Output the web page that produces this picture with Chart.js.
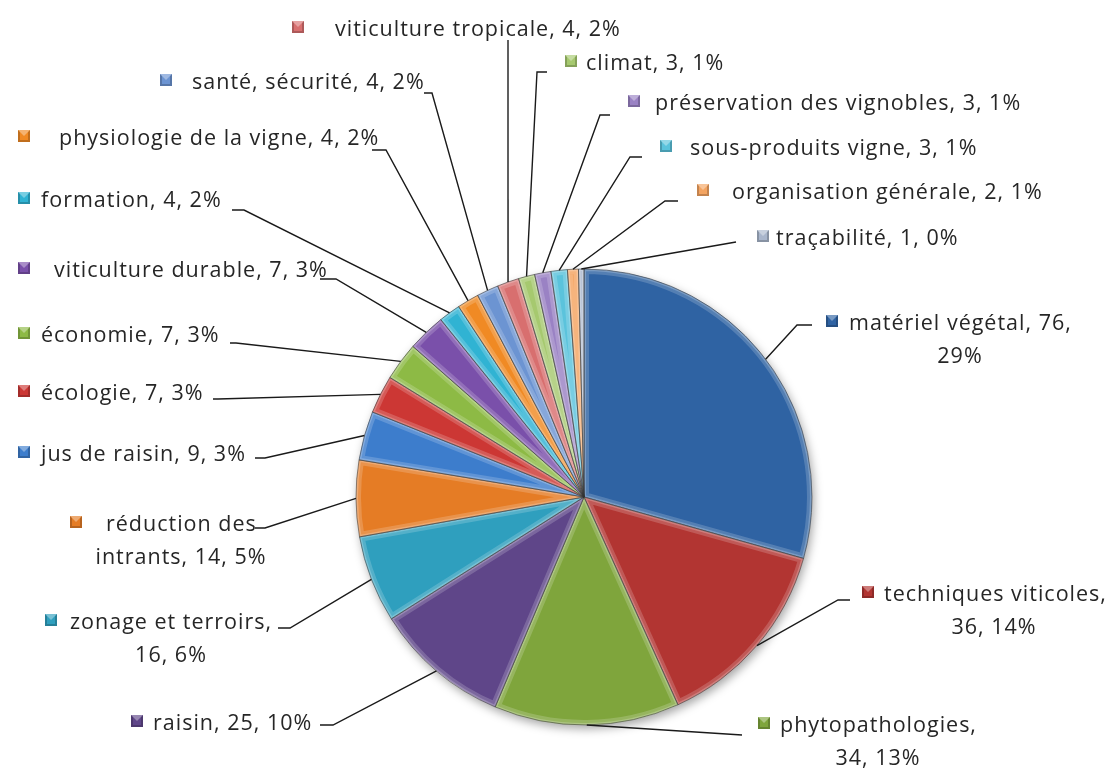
<!DOCTYPE html>
<html>
<head>
<meta charset="utf-8">
<script src="https://cdn.jsdelivr.net/npm/chart.js@4.4.0/dist/chart.umd.min.js"></script>
<style>
  html, body { margin: 0; padding: 0; background: #fff; }
  canvas { display: block; }
</style>
</head>
<body>
<canvas id="pie" width="1111" height="769"></canvas>
<script>
const categories = [
    'matériel végétal', 'techniques viticoles', 'phytopathologies', 'raisin',
    'zonage et terroirs', 'réduction des intrants', 'jus de raisin', 'écologie',
    'économie', 'viticulture durable', 'formation', 'physiologie de la vigne',
    'santé, sécurité', 'viticulture tropicale', 'climat', 'préservation des vignobles',
    'sous-produits vigne', 'organisation générale', 'traçabilité'
];
const counts = [76, 36, 34, 25, 16, 14, 9, 7, 7, 7, 4, 4, 4, 4, 3, 3, 3, 2, 1];
const percents = ['29%', '14%', '13%', '10%', '6%', '5%', '3%', '3%', '3%', '3%',
    '2%', '2%', '2%', '2%', '1%', '1%', '1%', '1%', '0%'];

const colors = [
    '#2f63a3', '#b23532', '#7fa53c', '#5f4689', '#2f9fbe', '#e57c25',
    '#3d7dcc', '#cc3734', '#8dba45', '#7a50aa', '#30b3d3', '#f08a24',
    '#6c94d2', '#d86f6f', '#a6c96f', '#9a82c4', '#5bc3dc', '#f4a461', '#a9b6cc'
];

// label text lines, built from the data
const labelLines = categories.map((c, i) => {
    const full = c + ', ' + counts[i] + ', ' + percents[i];
    if (i === 0) return [c + ', ' + counts[i] + ',', percents[i]];
    if (i === 1 || i === 2 || i === 4) return [c + ',', counts[i] + ', ' + percents[i]];
    if (i === 5) return ['réduction des', 'intrants, ' + counts[i] + ', ' + percents[i]];
    return [full];
});

// label placement: key box, text start, first line middle, second line centre, leader elbow and end
const labelLayout = [
    {bx: 826, tx: 849, ty: 320, l2: 960, ex: 797, ey: 325, hx: 812},
    {bx: 862, tx: 884, ty: 591, l2: 994, ex: 838, ey: 600, hx: 850},
    {bx: 758, tx: 780, ty: 722, l2: 878, ex: 742, ey: 735, hx: 742},
    {bx: 131, tx: 153, ty: 720, ex: 333, ey: 725, hx: 320},
    {bx: 45, tx: 70, ty: 619, l2: 171, ex: 290, ey: 628, hx: 278},
    {bx: 70, tx: 106, ty: 521, l2: 181, ex: 265, ey: 528, hx: 255},
    {bx: 18, tx: 41, ty: 451, ex: 265, ey: 458, hx: 255},
    {bx: 18, tx: 41, ty: 390, ex: 218, ey: 399, hx: 213},
    {bx: 18, tx: 41, ty: 332, ex: 236, ey: 343, hx: 230},
    {bx: 18, tx: 54, ty: 267, ex: 336, ey: 279, hx: 320},
    {bx: 18, tx: 41, ty: 197, ex: 244, ey: 210, hx: 232},
    {bx: 18, tx: 59, ty: 135, ex: 386, ey: 150, hx: 372},
    {bx: 160, tx: 192, ty: 79, ex: 432, ey: 93, hx: 424},
    {bx: 292, tx: 335, ty: 26, ex: 508, ey: 40, hx: 508},
    {bx: 565, tx: 586, ty: 60, ex: 537, ey: 72, hx: 547},
    {bx: 628, tx: 655, ty: 100, ex: 600, ey: 115, hx: 610},
    {bx: 660, tx: 690, ty: 145, ex: 630, ey: 157, hx: 642},
    {bx: 697, tx: 732, ty: 189, ex: 665, ey: 201, hx: 678},
    {bx: 757, tx: 776, ty: 235, ex: 736, ey: 242, hx: 736}
];

const FONT = '21.5px "Open Sans", Lato, sans-serif';
const LINE_H = 33;

function shade(hex, amt) {
    let n = parseInt(hex.slice(1), 16);
    let r = (n >> 16) & 255, g = (n >> 8) & 255, b = n & 255;
    const f = v => Math.max(0, Math.min(255, Math.round(amt > 0 ? v + (255 - v) * amt : v * (1 + amt))));
    return 'rgb(' + f(r) + ',' + f(g) + ',' + f(b) + ')';
}

const pieShadow = {
    id: 'pieShadow',
    beforeDatasetsDraw(chart) {
        const arc = chart.getDatasetMeta(0).data[0];
        if (!arc) return;
        const ctx = chart.ctx;
        ctx.save();
        ctx.beginPath();
        ctx.arc(arc.x, arc.y, arc.outerRadius, 0, Math.PI * 2);
        ctx.fillStyle = '#fff';
        ctx.shadowColor = 'rgba(0,0,0,0.35)';
        ctx.shadowBlur = 10;
        ctx.shadowOffsetX = 2;
        ctx.shadowOffsetY = 4;
        ctx.fill();
        ctx.restore();
    }
};

const bevel = {
    id: 'bevel',
    afterDatasetsDraw(chart) {
        const ctx = chart.ctx;
        chart.getDatasetMeta(0).data.forEach((a, i) => {
            ctx.save();
            ctx.beginPath();
            ctx.moveTo(a.x, a.y);
            ctx.arc(a.x, a.y, a.outerRadius, a.startAngle, a.endAngle);
            ctx.closePath();
            ctx.clip();
            ctx.lineJoin = 'round';
            ctx.strokeStyle = 'rgba(255,255,255,0.18)';
            ctx.lineWidth = 10;
            ctx.stroke();
            ctx.strokeStyle = 'rgba(255,255,255,0.22)';
            ctx.lineWidth = 4;
            ctx.stroke();
            ctx.restore();
            ctx.save();
            ctx.beginPath();
            ctx.moveTo(a.x, a.y);
            ctx.arc(a.x, a.y, a.outerRadius, a.startAngle, a.endAngle);
            ctx.closePath();
            ctx.strokeStyle = 'rgba(50,50,50,0.55)';
            ctx.lineWidth = 1;
            ctx.stroke();
            ctx.restore();
        });
    }
};

const outsideLabels = {
    id: 'outsideLabels',
    afterDraw(chart) {
        const ctx = chart.ctx;
        const meta = chart.getDatasetMeta(0);
        ctx.save();
        ctx.font = FONT;
        ctx.letterSpacing = '1px';
        ctx.textBaseline = 'alphabetic';
        meta.data.forEach((a, i) => {
            const L = labelLayout[i];
            const mid = (a.startAngle + a.endAngle) / 2;
            const sx = a.x + Math.cos(mid) * a.outerRadius;
            const sy = a.y + Math.sin(mid) * a.outerRadius;
            // leader line
            ctx.beginPath();
            ctx.moveTo(sx, sy);
            ctx.lineTo(L.ex, L.ey);
            ctx.lineTo(L.hx, L.ey);
            ctx.strokeStyle = '#1a1a1a';
            ctx.lineWidth = 1.4;
            ctx.stroke();
            // key box
            const s = 12, by = L.ty - 5;
            const c = colors[i];
            ctx.fillStyle = shade(c, -0.2);
            ctx.fillRect(L.bx, by, s, s);
            ctx.fillStyle = c;
            ctx.fillRect(L.bx + 2, by + 2, s - 4, s - 4);
            ctx.beginPath();
            ctx.moveTo(L.bx, by);
            ctx.lineTo(L.bx + s, by);
            ctx.lineTo(L.bx + s / 2, by + s / 2);
            ctx.closePath();
            ctx.fillStyle = shade(c, 0.35);
            ctx.fill();
            // text
            const lines = labelLines[i];
            ctx.fillStyle = '#262626';
            ctx.textAlign = 'left';
            ctx.fillText(lines[0], L.tx, L.ty + 10);
            if (lines.length > 1) {
                ctx.textAlign = 'center';
                ctx.fillText(lines[1], L.l2, L.ty + 10 + LINE_H);
            }
        });
        ctx.restore();
    }
};

new Chart(document.getElementById('pie'), {
    type: 'pie',
    data: {
        labels: categories,
        datasets: [{
            data: counts,
            backgroundColor: colors,
            borderWidth: 0
        }]
    },
    options: {
        responsive: false,
        animation: false,
        layout: {
            padding: {left: 356, right: 299, top: 269, bottom: 44}
        },
        plugins: {
            legend: {display: false},
            tooltip: {enabled: false}
        }
    },
    plugins: [pieShadow, bevel, outsideLabels]
});
</script>
</body>
</html>
